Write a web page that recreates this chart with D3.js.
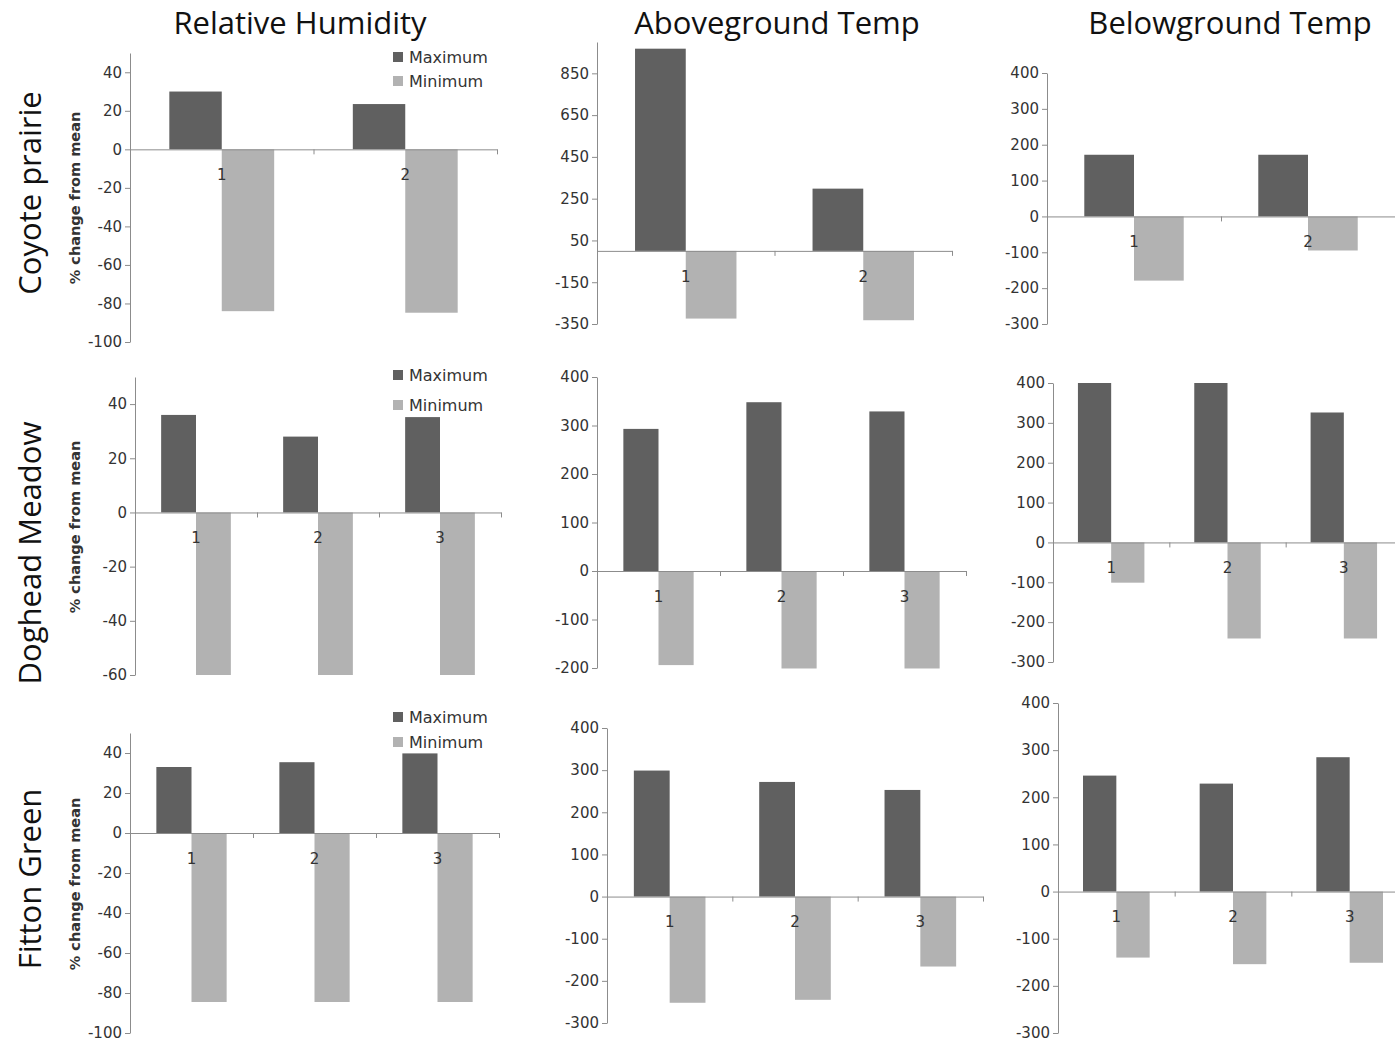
<!DOCTYPE html>
<html>
<head>
<meta charset="utf-8">
<script src="https://cdn.jsdelivr.net/npm/d3@7"></script>
<style>
  body { margin: 0; background: #fff; }
  text { font-family: 'DejaVu Sans', sans-serif; fill: #333; }
  .col-title, .row-title { font-family: 'Open Sans', sans-serif; fill: #111; }
</style>
</head>
<body>
<div id="chart"></div>
<script>
// values
const columns = ['Relative Humidity', 'Aboveground Temp', 'Belowground Temp'];
const sites = ['Coyote prairie', 'Doghead Meadow', 'Fitton Green'];
const seriesNames = ['Maximum', 'Minimum'];
const replicates = [['1', '2'], ['1', '2', '3'], ['1', '2', '3']];

const rhMax = [[30, 23.5], [36, 28, 35.2], [33, 35.4, 39.8]];
const rhMin = [[-84, -84.8], [-60, -60, -60], [-84.5, -84.5, -84.5]];
const aboveMax = [[968, 298], [293, 348, 329], [299, 272, 253]];
const aboveMin = [[-324, -332], [-194, -201, -201], [-252, -245, -166]];
const belowMax = [[172, 172], [400, 400, 326], [246, 229, 285]];
const belowMin = [[-179, -95], [-101, -241, -241], [-140, -154, -151]];

const rhDomain = [[-100, 50], [-60, 50], [-100, 50]];
const aboveDomain = [[-350, 1000], [-200, 400], [-300, 400]];
const belowDomain = [[-300, 400], [-300, 400], [-300, 400]];

const rhTicks = [d3.range(-100, 41, 20), d3.range(-60, 41, 20), d3.range(-100, 41, 20)];
const aboveTicks = [d3.range(-350, 851, 200), d3.range(-200, 401, 100), d3.range(-300, 401, 100)];
const belowTicks = [d3.range(-300, 401, 100), d3.range(-300, 401, 100), d3.range(-300, 401, 100)];

// panel boxes in pixels: axis x start/end, top and bottom of the y range
const boxes = [
   [{ x0: 130, x1: 497, yTop: 53, yBot: 342 }, { x0: 597, x1: 952, yTop: 42, yBot: 324 }, { x0: 1047, x1: 1395, yTop: 73, yBot: 324 }],
   [{ x0: 135, x1: 501, yTop: 377, yBot: 675 }, { x0: 597, x1: 966, yTop: 377, yBot: 668 }, { x0: 1053, x1: 1402, yTop: 383, yBot: 662 }],
   [{ x0: 130, x1: 499, yTop: 733, yBot: 1033 }, { x0: 607, x1: 983, yTop: 728, yBot: 1023 }, { x0: 1058, x1: 1408, yTop: 703, yBot: 1033 }]
];
const legendY = [[57, 81], [375, 405], [717, 742]];
const yTitleY = [198, 527, 884];
const rowTitleY = [193, 553, 879];
const colTitleX = [300, 777, 1230];

const colors = { Maximum: '#606060', Minimum: '#b2b2b2' };
const axisColor = '#8c8c8c';

const width = 1395, height = 1042;
const svg = d3.select('#chart').append('svg')
   .attr('width', width)
   .attr('height', height);

svg.append('rect').attr('width', width).attr('height', height).attr('fill', '#fff');

const maxByCol = [rhMax, aboveMax, belowMax];
const minByCol = [rhMin, aboveMin, belowMin];
const domainByCol = [rhDomain, aboveDomain, belowDomain];
const ticksByCol = [rhTicks, aboveTicks, belowTicks];

function drawPanel(r, c) {
   const box = boxes[r][c];
   const cats = replicates[r];
   const g = svg.append('g').attr('class', 'panel');

   const y = d3.scaleLinear().domain(domainByCol[c][r]).range([box.yBot, box.yTop]);
   const x = d3.scaleBand().domain(cats).range([box.x0, box.x1]);
   const step = x.bandwidth();
   const barW = step / 3.5;
   const xs = d3.scaleBand().domain(seriesNames).range([barW * 0.75, step - barW * 0.75]);

   const rows = cats.map((cat, i) => ({
      cat,
      Maximum: maxByCol[c][r][i],
      Minimum: minByCol[c][r][i]
   }));

   // bars
   rows.forEach(d => {
      seriesNames.forEach(s => {
         g.append('rect')
            .attr('x', x(d.cat) + xs(s))
            .attr('width', xs.bandwidth())
            .attr('y', y(Math.max(0, d[s])))
            .attr('height', Math.abs(y(d[s]) - y(0)))
            .attr('fill', colors[s]);
      });
   });

   // y axis (plain hyphen for negatives, like the original)
   const yAxis = g.append('g')
      .attr('transform', `translate(${box.x0},0)`)
      .call(d3.axisLeft(y).tickValues(ticksByCol[c][r]).tickSize(5).tickSizeOuter(0).tickPadding(3)
         .tickFormat(d => String(d)));
   yAxis.select('.domain').attr('stroke', axisColor);
   yAxis.selectAll('.tick line').attr('stroke', axisColor);
   yAxis.selectAll('.tick text').style('font-size', '15px').attr('fill', '#333');

   // x axis line with boundary ticks
   const xb = d3.scaleLinear().domain([0, cats.length]).range([box.x0, box.x1]);
   const xLine = g.append('g')
      .attr('transform', `translate(0,${y(0)})`)
      .call(d3.axisBottom(xb).tickValues(d3.range(cats.length + 1)).tickSize(5).tickSizeOuter(0).tickFormat(''));
   xLine.select('.domain').attr('stroke', axisColor);
   xLine.selectAll('.tick line').attr('stroke', axisColor);

   // category labels
   const xLab = g.append('g')
      .attr('transform', `translate(0,${y(0)})`)
      .call(d3.axisBottom(x).tickSize(0).tickPadding(20));
   xLab.select('.domain').remove();
   xLab.selectAll('.tick text').style('font-size', '15px').attr('fill', '#222');
}

for (let r = 0; r < 3; r++) {
   for (let c = 0; c < 3; c++) drawPanel(r, c);

   // legend in the humidity panel
   const lg = svg.append('g').attr('class', 'legend');
   seriesNames.forEach((s, i) => {
      lg.append('rect')
         .attr('x', 393).attr('y', legendY[r][i] - 5)
         .attr('width', 10).attr('height', 10)
         .attr('fill', colors[s]);
      lg.append('text')
         .attr('x', 409).attr('y', legendY[r][i])
         .attr('dy', '0.35em')
         .style('font-size', '16px')
         .text(s);
   });

   svg.append('text')
      .attr('transform', `translate(75,${yTitleY[r]}) rotate(-90)`)
      .attr('text-anchor', 'middle')
      .attr('dy', '0.35em')
      .style('font-size', '14.5px')
      .style('font-weight', 'bold')
      .attr('fill', '#111')
      .text('% change from mean');

   svg.append('text')
      .attr('class', 'row-title')
      .attr('transform', `translate(30,${rowTitleY[r]}) rotate(-90)`)
      .attr('text-anchor', 'middle')
      .attr('dy', '0.35em')
      .style('font-size', '31px')
      .text(sites[r]);
}

columns.forEach((t, i) => {
   svg.append('text')
      .attr('class', 'col-title')
      .attr('x', colTitleX[i]).attr('y', 34)
      .attr('text-anchor', 'middle')
      .style('font-size', '31px')
      .text(t);
});
</script>
</body>
</html>
